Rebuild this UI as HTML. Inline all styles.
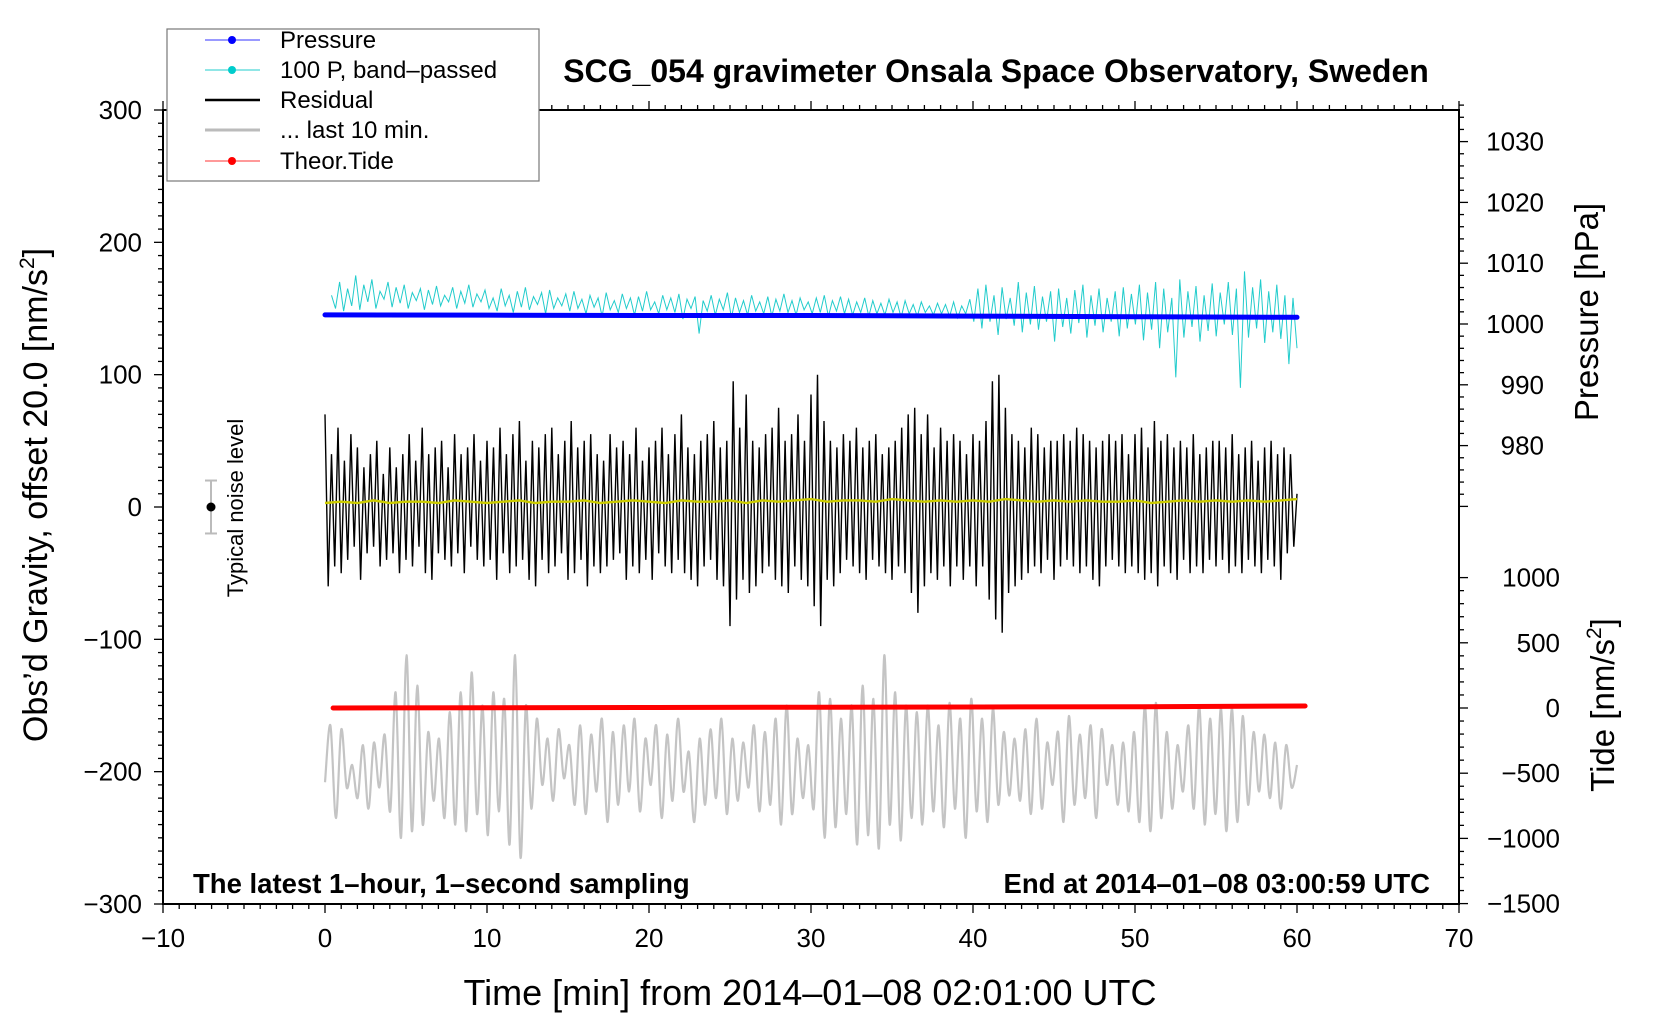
<!DOCTYPE html>
<html><head><meta charset="utf-8"><style>
html,body{margin:0;padding:0;background:#fff;}
svg{display:block;font-family:"Liberation Sans",sans-serif;}
</style></head><body>
<svg id="chart" width="1660" height="1020" viewBox="0 0 1660 1020" xmlns="http://www.w3.org/2000/svg">
<rect x="0" y="0" width="1660" height="1020" fill="#fff"/>
<g id="plot"></g>
<text x="996" y="82" font-size="32" font-weight="bold" text-anchor="middle">SCG_054 gravimeter Onsala Space Observatory, Sweden</text>
<text x="193" y="893" font-size="27.5" font-weight="bold">The latest 1–hour, 1–second sampling</text>
<text x="1430" y="893" font-size="27.5" font-weight="bold" text-anchor="end">End at 2014–01–08 03:00:59 UTC</text>
<text x="810" y="1005" font-size="36" text-anchor="middle">Time [min] from 2014–01–08 02:01:00 UTC</text>
<text transform="translate(47,495) rotate(-90)" font-size="34" text-anchor="middle">Obs’d Gravity, offset 20.0 [nm/s<tspan font-size="21" dy="-13">2</tspan><tspan dy="13">]</tspan></text>
<text transform="translate(1598,312) rotate(-90)" font-size="33" text-anchor="middle">Pressure [hPa]</text>
<text transform="translate(1614,705) rotate(-90)" font-size="33" text-anchor="middle">Tide [nm/s<tspan font-size="21" dy="-13">2</tspan><tspan dy="13">]</tspan></text>
<text transform="translate(243,508) rotate(-90)" font-size="22" text-anchor="middle">Typical noise level</text>
<g>
<rect x="167" y="29" width="372" height="152" fill="#fff" stroke="#777" stroke-width="1.2"/>
<g><line x1="205" y1="40" x2="260" y2="40" stroke="#33f" stroke-width="1"/><circle cx="232" cy="40" r="4" fill="#00f"/><text x="280" y="48" font-size="24">Pressure</text></g>
<g><line x1="205" y1="70" x2="260" y2="70" stroke="#2cc" stroke-width="1"/><circle cx="232" cy="70" r="4" fill="#0cc"/><text x="280" y="78" font-size="24">100 P, band–passed</text></g>
<g><line x1="205" y1="100" x2="260" y2="100" stroke="#000" stroke-width="2.5"/><text x="280" y="108" font-size="24">Residual</text></g>
<g><line x1="205" y1="130" x2="260" y2="130" stroke="#bbb" stroke-width="3"/><text x="280" y="138" font-size="24">... last 10 min.</text></g>
<g><line x1="205" y1="161" x2="260" y2="161" stroke="#f33" stroke-width="1"/><circle cx="232" cy="161" r="4" fill="#f00"/><text x="280" y="169" font-size="24">Theor.Tide</text></g>
</g>
</svg>
<script>
const residual=[70,-60,40,-45,60,-50,35,-40,55,-30,45,-55,30,-35,40,-30,50,-45,25,-40,45,-35,30,-50,40,
-40,55,-45,35,-30,60,-50,40,-55,45,-35,50,-40,30,-45,55,-35,40,-50,45,-30,55,-40,35,-45,
50,-40,45,-55,60,-35,40,-50,55,-45,65,-40,35,-55,50,-60,45,-40,55,-50,60,-45,40,-35,50,
-55,65,-50,45,-40,50,-60,55,-45,40,-50,35,-45,55,-40,45,-35,50,-55,40,-45,60,-50,35,-40,
45,-55,50,-35,60,-45,40,-50,55,-40,70,-50,45,-55,40,-60,50,-45,55,-40,65,-55,45,-60,50,
-90,95,-70,60,-55,85,-65,50,-60,45,-50,55,-45,60,-55,75,-60,50,-65,55,-45,70,-55,50,-60,
85,-75,100,-90,65,-55,50,-60,45,-50,55,-40,50,-45,60,-50,45,-55,50,-40,55,-45,40,-50,45,
-55,50,-45,60,-50,70,-65,75,-80,55,-60,70,-50,45,-55,60,-45,50,-60,55,-45,50,-55,40,-45,
55,-60,50,-45,65,-70,95,-85,100,-95,75,-65,55,-60,50,-55,45,-50,60,-45,55,-50,45,-40,50,
-55,50,-45,55,-40,50,-45,60,-50,55,-45,50,-55,45,-60,50,-45,55,-40,50,-45,55,-50,40,-45,
55,-50,60,-55,45,-50,65,-60,50,-45,55,-50,45,-55,50,-40,45,-50,55,-45,40,-50,45,-40,50,
-45,50,-40,45,-50,55,-45,40,-50,45,-40,50,-45,35,-50,45,-40,50,-45,40,-55,45,-35,40,-30,10];
const smoothResidual=[3,4,3,5,3,4,4,3,5,4,3,4,5,3,4,4,5,3,4,5,4,3,5,4,4,5,3,5,4,5,6,4,5,5,4,6,5,4,5,4,5,4,6,5,4,5,4,5,4,4,5,3,4,5,4,5,4,5,4,5,6];
const bandPassed=[160,150,170,148,165,152,175,149,168,155,172,150,163,157,170,151,166,154,168,150,162,156,165,149,164,153,167,152,160,155,166,150,163,154,168,151,161,155,164,150,
158,148,165,152,160,147,163,151,166,149,159,153,162,146,164,150,158,152,161,148,163,150,157,146,160,151,158,144,162,149,156,147,161,150,158,145,159,148,163,149,
155,146,160,149,158,147,161,142,157,150,159,131,156,148,160,145,157,149,162,143,158,147,156,145,160,148,155,146,159,144,157,148,161,147,156,145,158,149,155,146,
158,147,160,144,156,148,159,146,157,145,155,147,158,144,156,146,154,145,157,147,155,143,156,146,153,144,155,147,152,145,154,146,153,144,155,143,152,146,157,140,
165,135,168,140,160,130,166,142,158,137,170,132,162,138,167,134,159,140,163,125,165,136,158,131,164,139,168,128,160,137,165,132,158,140,163,129,166,135,161,138,
168,126,162,134,170,120,165,132,158,98,172,128,163,136,167,125,160,133,169,129,162,138,170,130,165,90,178,128,166,135,172,124,163,132,168,127,160,108,158,120];
const last10=[-208,-165,-235,-168,-212,-195,-220,-180,-228,-178,-212,-172,-230,-140,-250,-112,-245,-135,-240,-170,-222,-175,-235,-155,-240,-140,-245,-125,-232,-150,
-248,-140,-230,-145,-255,-112,-265,-150,-228,-160,-210,-175,-222,-168,-205,-180,-225,-165,-232,-172,-215,-160,-238,-170,-225,-165,-215,-160,-230,-175,
-210,-165,-235,-172,-222,-160,-215,-185,-238,-175,-225,-168,-220,-160,-232,-175,-222,-178,-212,-165,-230,-170,-225,-160,-240,-150,-232,-175,-220,-180,
-228,-140,-250,-145,-242,-160,-232,-150,-255,-135,-248,-145,-258,-112,-240,-140,-252,-150,-235,-155,-240,-150,-230,-165,-242,-148,-228,-160,-250,-145,
-230,-160,-238,-152,-225,-170,-218,-175,-222,-168,-232,-160,-228,-178,-210,-170,-238,-158,-225,-172,-220,-165,-235,-168,-210,-180,-225,-178,-230,-170,
-238,-150,-245,-148,-235,-170,-228,-180,-215,-165,-228,-150,-240,-160,-232,-152,-245,-152,-238,-158,-225,-170,-215,-172,-220,-178,-228,-180,-212,-195];
const pressureTimes=[0,10,20,30,40,50,60];
const pressureHPa=[1001.5,1001.45,1001.4,1001.4,1001.3,1001.2,1001.1];
const tideTimes=[0.5,10.5,20.5,30.5,40.5,50.5,60.5];
const tideValues=[0,2,4,6,8,10,15];
const xTicks=[-10,0,10,20,30,40,50,60,70];
const yTicks=[-300,-200,-100,0,100,200,300];
const pTicks=[980,990,1000,1010,1020,1030];
const tTicks=[-1500,-1000,-500,0,500,1000];

const NS='http://www.w3.org/2000/svg';
const L=163,R=1459,T=110,B=904;
const X=t=>L+(t+10)*(R-L)/80;
const Y=g=>507-g*(B-T)/600;
const YP=p=>324-(p-1000)*6.08;
const YT=v=>708-v*(B-578)/2500;
const plot=document.getElementById('plot');
function mk(tag,attrs,parent){const e=document.createElementNS(NS,tag);for(const k in attrs)e.setAttribute(k,attrs[k]);(parent||plot).appendChild(e);return e;}
function pts(arr,t0,t1,f){const n=arr.length;return arr.map((v,i)=>X(t0+(t1-t0)*i/(n-1)).toFixed(1)+','+f(v).toFixed(1));}
function smoothPath(arr,t0,t1,f){const n=arr.length;const P=arr.map((v,i)=>[X(t0+(t1-t0)*i/(n-1)),f(v)]);let d='M'+P[0][0]+','+P[0][1];for(let i=0;i<n-1;i++){const p0=P[Math.max(i-1,0)],p1=P[i],p2=P[i+1],p3=P[Math.min(i+2,n-1)];const c1=[p1[0]+(p2[0]-p0[0])/6,p1[1]+(p2[1]-p0[1])/6],c2=[p2[0]-(p3[0]-p1[0])/6,p2[1]-(p3[1]-p1[1])/6];d+=' C'+c1[0].toFixed(1)+','+c1[1].toFixed(1)+' '+c2[0].toFixed(1)+','+c2[1].toFixed(1)+' '+p2[0].toFixed(1)+','+p2[1].toFixed(1);}return d;}

const g1=mk('path',{d:smoothPath(last10,0,60,Y),fill:'none',stroke:'#c4c4c4','stroke-width':2.2});


const tl=mk('polyline',{points:tideTimes.map((t,i)=>X(t)+','+YT(tideValues[i])).join(' '),fill:'none',stroke:'#f00','stroke-width':5,'stroke-linecap':'round'});


const rl=mk('polyline',{points:pts(residual,0,60,Y).join(' '),fill:'none',stroke:'#000','stroke-width':1.4});


const yl=mk('polyline',{points:pts(smoothResidual,0,60,Y).join(' '),fill:'none',stroke:'#cc0','stroke-width':2.4});


const cl=mk('polyline',{points:pts(bandPassed,0.4,60,Y).join(' '),fill:'none',stroke:'#2cc','stroke-width':1});


const pl=mk('polyline',{points:pressureTimes.map((t,i)=>X(t)+','+YP(pressureHPa[i])).join(' '),fill:'none',stroke:'#00f','stroke-width':5,'stroke-linecap':'round'});



const nb=mk('g',{});


mk('line',{x1:211,y1:Y(20),x2:211,y2:Y(-20),stroke:'#bbb','stroke-width':2},nb);
mk('line',{x1:205,y1:Y(20),x2:217,y2:Y(20),stroke:'#bbb','stroke-width':2},nb);
mk('line',{x1:205,y1:Y(-20),x2:217,y2:Y(-20),stroke:'#bbb','stroke-width':2},nb);
mk('circle',{cx:211,cy:Y(0),r:4.5,fill:'#000'},nb);

const fr=mk('rect',{x:L,y:T,width:R-L,height:B-T,fill:'none',stroke:'#000','stroke-width':2});



const ax=mk('g',{stroke:'#000','stroke-width':1.3});


for(let t=-10;t<=70;t++){const m=t%10===0;mk('line',{x1:X(t),y1:B,x2:X(t),y2:B+(m?9:5)},ax);mk('line',{x1:X(t),y1:T,x2:X(t),y2:T-(m?9:5)},ax);}
for(let g=-300;g<=300;g+=10){const m=g%100===0;mk('line',{x1:L,y1:Y(g),x2:L-(m?9:5),y2:Y(g)},ax);}
for(let p=970;p<=1036;p+=2){const m=p%10===0;mk('line',{x1:R,y1:YP(p),x2:R+(m?9:5),y2:YP(p)},ax);}
for(let v=-1500;v<=1000;v+=100){const m=v%500===0;mk('line',{x1:R,y1:YT(v),x2:R+(m?9:5),y2:YT(v)},ax);}
const lab=mk('g',{'font-size':26,fill:'#000'});
xTicks.forEach(t=>{const e=mk('text',{x:X(t),y:947,'text-anchor':'middle'},lab);e.textContent=String(t).replace('-','−');

});
yTicks.forEach(g=>{const e=mk('text',{x:142,y:Y(g)+9,'text-anchor':'end'},lab);e.textContent=String(g).replace('-','−');

});
pTicks.forEach(p=>{const e=mk('text',{x:1544,y:YP(p)+9,'text-anchor':'end'},lab);e.textContent=p;

});
tTicks.forEach(v=>{const e=mk('text',{x:1560,y:YT(v)+9,'text-anchor':'end'},lab);e.textContent=String(v).replace('-','−');

});
</script>
</body></html>
